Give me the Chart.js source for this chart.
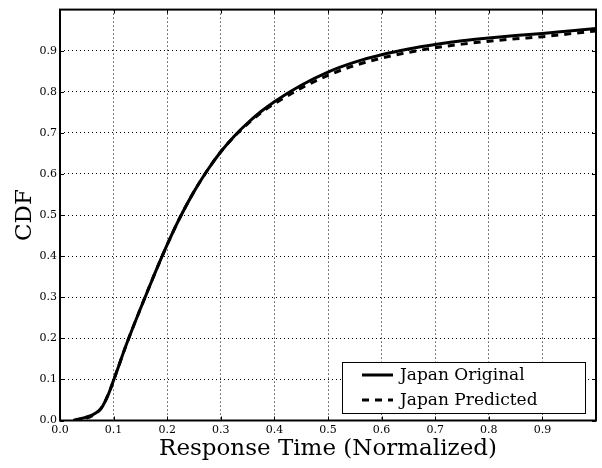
<!DOCTYPE html>
<html>
<head>
<meta charset="utf-8">
<script src="https://cdn.jsdelivr.net/npm/chart.js@4/dist/chart.umd.min.js"></script>
<style>
  html, body { margin: 0; padding: 0; background: #fff; }
  #wrap { width: 602px; height: 468px; }
</style>
</head>
<body>
<div id="wrap"><canvas id="c" width="602" height="468"></canvas></div>
<script>
// ---- data ----
const seriesNames = ['Japan Original', 'Japan Predicted'];
const timeOriginal = [0.025, 0.04, 0.056, 0.065, 0.075, 0.08, 0.09, 0.1, 0.125, 0.15, 0.175, 0.2, 0.225, 0.25, 0.275, 0.3, 0.325, 0.35, 0.375, 0.4, 0.45, 0.5, 0.55, 0.6, 0.65, 0.7, 0.75, 0.8, 0.85, 0.9, 0.95, 1.0];
const cdfOriginal  = [0.0, 0.005, 0.011, 0.017, 0.027, 0.036, 0.063, 0.098, 0.189, 0.272, 0.352, 0.428, 0.497, 0.557, 0.609, 0.654, 0.692, 0.724, 0.752, 0.776, 0.816, 0.848, 0.872, 0.890, 0.904, 0.915, 0.924, 0.931, 0.937, 0.942, 0.948, 0.954];
const timePredicted = [0.025, 0.045, 0.055, 0.065, 0.075, 0.08, 0.09, 0.1, 0.125, 0.15, 0.175, 0.2, 0.225, 0.25, 0.275, 0.3, 0.325, 0.35, 0.375, 0.4, 0.45, 0.5, 0.55, 0.6, 0.65, 0.7, 0.75, 0.8, 0.85, 0.9, 0.95, 1.0];
const cdfPredicted  = [0.0, 0.005, 0.008, 0.016, 0.027, 0.036, 0.063, 0.098, 0.189, 0.272, 0.352, 0.428, 0.497, 0.557, 0.609, 0.654, 0.691, 0.722, 0.749, 0.771, 0.809, 0.840, 0.864, 0.882, 0.896, 0.907, 0.916, 0.923, 0.929, 0.934, 0.941, 0.948];
const xTickValues = [0.0, 0.1, 0.2, 0.3, 0.4, 0.5, 0.6, 0.7, 0.8, 0.9];
const yTickValues = [0.0, 0.1, 0.2, 0.3, 0.4, 0.5, 0.6, 0.7, 0.8, 0.9];
const xTitle = 'Response Time (Normalized)';
const yTitle = 'CDF';

const FONT = "'DejaVu Serif', 'Liberation Serif', serif";
const toPts = (xs, ys) => xs.map((x, i) => ({ x: x, y: ys[i] }));

const frameAndTicks = {
  id: 'frameAndTicks',
  afterDatasetsDraw(chart) {
    const { ctx, chartArea: a, scales } = chart;
    ctx.save();
    ctx.strokeStyle = '#000';
    ctx.lineWidth = 1;
    const L = 4;
    ctx.beginPath();
    xTickValues.forEach(v => {
      const px = Math.round(scales.x.getPixelForValue(v)) + 0.5;
      ctx.moveTo(px, a.bottom); ctx.lineTo(px, a.bottom - L);
      ctx.moveTo(px, a.top); ctx.lineTo(px, a.top + L);
    });
    yTickValues.forEach(v => {
      const py = Math.round(scales.y.getPixelForValue(v)) + 0.5;
      ctx.moveTo(a.left, py); ctx.lineTo(a.left + L, py);
      ctx.moveTo(a.right, py); ctx.lineTo(a.right - L, py);
    });
    ctx.stroke();
    ctx.lineWidth = 2;
    ctx.strokeRect(a.left, a.top, a.right - a.left, a.bottom - a.top);

    // legend box (inside plot, lower right)
    const bw = 243, bh = 51;
    const bx = a.right - 11 - bw, by = a.bottom - 7.5 - bh;
    ctx.fillStyle = '#fff';
    ctx.fillRect(bx, by, bw, bh);
    ctx.lineWidth = 1;
    ctx.strokeStyle = '#000';
    ctx.strokeRect(Math.round(bx) + 0.5, Math.round(by) + 0.5, bw, bh);
    ctx.font = '17px ' + FONT;
    ctx.textBaseline = 'middle';
    ctx.fillStyle = '#000';
    chart.data.datasets.forEach((ds, i) => {
      const cy = by + 13 + i * 25;
      ctx.beginPath();
      ctx.lineWidth = 3;
      ctx.setLineDash(ds.borderDash || []);
      ctx.moveTo(bx + 20, cy);
      ctx.lineTo(bx + 51, cy);
      ctx.stroke();
      ctx.setLineDash([]);
      ctx.fillText(ds.label, bx + 58, cy + 1);
    });
    ctx.restore();
  }
};

new Chart(document.getElementById('c'), {
  type: 'line',
  data: {
    datasets: [
      {
        label: seriesNames[0],
        data: toPts(timeOriginal, cdfOriginal),
        borderColor: '#000',
        borderWidth: 3,
        pointRadius: 0,
        cubicInterpolationMode: 'monotone',
        fill: false
      },
      {
        label: seriesNames[1],
        data: toPts(timePredicted, cdfPredicted),
        borderColor: '#000',
        borderWidth: 3,
        borderDash: [7, 6],
        pointRadius: 0,
        cubicInterpolationMode: 'monotone',
        fill: false
      }
    ]
  },
  options: {
    responsive: false,
    animation: false,
    layout: { padding: { left: 0, top: 7, right: 6, bottom: 0 } },
    plugins: { legend: { display: false }, tooltip: { enabled: false } },
    scales: {
      x: {
        type: 'linear',
        min: 0, max: 1,
        afterBuildTicks: s => { s.ticks = xTickValues.concat([1.0]).map(v => ({ value: v })); },
        afterFit: s => { s.height = 47.5; },
        grid: { color: '#000', lineWidth: 1, drawTicks: false },
        border: { display: false, dash: [1, 3] },
        ticks: {
          padding: 3,
          color: '#000',
          font: { family: FONT, size: 11 },
          maxRotation: 0,
          callback: v => (v >= 0.999 ? '' : v.toFixed(1))
        },
        title: { display: true, text: xTitle, color: '#000', font: { family: FONT, size: 23 }, padding: { top: 0, bottom: 5 } }
      },
      y: {
        type: 'linear',
        min: 0, max: 1,
        afterBuildTicks: s => { s.ticks = yTickValues.concat([1.0]).map(v => ({ value: v })); },
        afterFit: s => { s.width = 60; },
        grid: { color: '#000', lineWidth: 1, drawTicks: false },
        border: { display: false, dash: [1, 3] },
        ticks: {
          padding: 3,
          color: '#000',
          font: { family: FONT, size: 11 },
          callback: v => (v >= 0.999 ? '' : v.toFixed(1))
        },
        title: { display: true, text: yTitle, color: '#000', font: { family: FONT, size: 23 }, padding: { top: 11, bottom: 0 } }
      }
    }
  },
  plugins: [frameAndTicks]
});
</script>
</body>
</html>
